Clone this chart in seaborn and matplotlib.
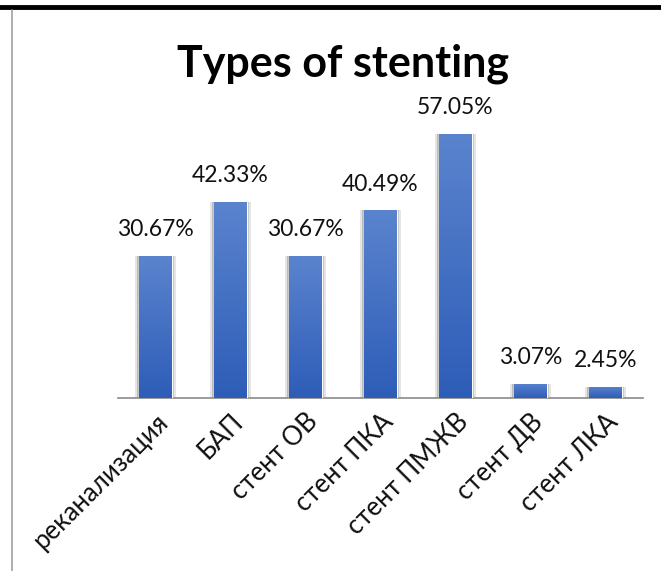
import numpy as np
import pandas as pd
import seaborn as sns
import matplotlib.pyplot as plt
from matplotlib.lines import Line2D
from matplotlib.colors import LinearSegmentedColormap

categories = ["реканализация", "БАП", "стент ОВ", "стент ПКА", "стент ПМЖВ", "стент ДВ", "стент ЛКА"]
values = [30.67, 42.33, 30.67, 40.49, 57.05, 3.07, 2.45]
labels = ["30.67%", "42.33%", "30.67%", "40.49%", "57.05%", "3.07%", "2.45%"]

df = pd.DataFrame({"type": categories, "share": values})

sns.set_theme(style="white")
plt.rcParams["font.family"] = ["Lato", "DejaVu Sans"]

fig = plt.figure(figsize=(6.61, 5.71), dpi=100)
ax = fig.add_axes([0.1785, 0.303, 0.7943, 0.4868])

sns.barplot(data=df, x="type", y="share", color="#3F6BC4", width=0.43, ax=ax, zorder=3)

# vertical gradient on each bar plus a soft shadow
cmap = LinearSegmentedColormap.from_list("bar", ["#2E5DB8", "#5B84CE"])
grad = np.linspace(0, 1, 256).reshape(-1, 1)
for p in ax.patches:
    x0, y0 = p.get_x(), p.get_y()
    w, h = p.get_width(), p.get_height()
    for k, a in [(0.06, 0.10), (0.03, 0.18)]:
        ax.add_patch(plt.Rectangle((x0 - k, y0 - 0.4), w + 2 * k, h + 0.4,
                                   color="black", alpha=a, lw=0, zorder=2))
    im = ax.imshow(grad, extent=[x0, x0 + w, y0, y0 + h], origin="lower",
                   cmap=cmap, aspect="auto", zorder=4)
    im.set_clip_path(p)

for i, (v, t) in enumerate(zip(values, labels)):
    ax.text(i, v + 3.4, t, ha="center", va="bottom", fontsize=16.5, color="#111111", clip_on=False)

ax.set_xlim(-0.5, 6.5)
ax.set_ylim(0, 60)
ax.set_xlabel("")
ax.set_ylabel("")
ax.set_yticks([])
for s in ["top", "right", "left"]:
    ax.spines[s].set_visible(False)
ax.spines["bottom"].set_color("#8a8a8a")
ax.spines["bottom"].set_linewidth(1.2)
ax.tick_params(axis="x", length=0, pad=8)
plt.setp(ax.get_xticklabels(), rotation=45, ha="right", rotation_mode="anchor",
         fontsize=18.5, color="#111111")

fig.text(0.519, 0.889, "Types of stenting", ha="center", va="center",
         fontsize=31, fontweight="bold", color="black")

# frame lines of the original screenshot
fig.add_artist(Line2D([0, 1], [0.988, 0.988], color="black", lw=3.5, transform=fig.transFigure))
fig.add_artist(Line2D([0.018, 0.018], [0, 0.982], color="#a0a0a0", lw=1.2, transform=fig.transFigure))

fig.savefig("out.png", dpi=100)
